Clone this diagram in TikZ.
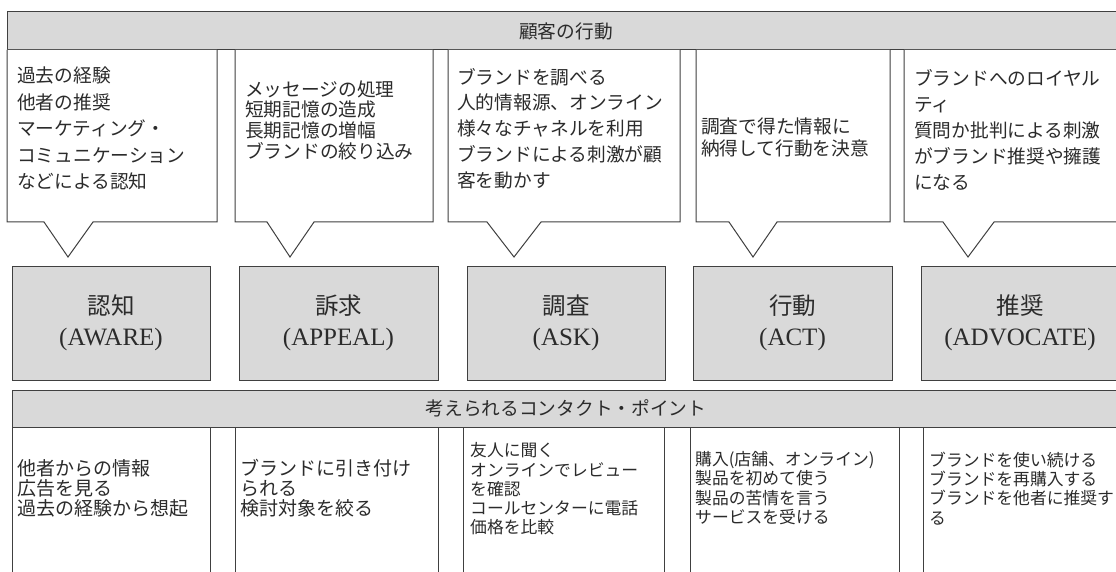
\documentclass[tikz,border=0pt]{standalone}
\usepackage{fontspec}
\setmainfont{Liberation Serif}
\newfontfamily\jp{Noto Sans CJK JP}
\definecolor{edge}{HTML}{404040}
\definecolor{band}{HTML}{D9D9D9}
\definecolor{txt}{HTML}{2B2B2B}
\begin{document}
\begin{tikzpicture}[x=1pt,y=-1pt,
  line/.style={draw=edge,line width=1pt},
  bar/.style={line,fill=band,inner sep=0pt,text=txt,font={\jp\fontsize{18.7}{20}\selectfont}},
  stagebox/.style={line,fill=band,inner sep=0pt,minimum height=114pt,align=center,text=txt,font={\fontsize{25}{30.5}\selectfont}},
  calltext/.style={anchor=west,inner sep=0pt,align=left,text=txt,font={\jp\fontsize{18.7}{26.5}\selectfont}},
  tighttext/.style={calltext,font={\jp\fontsize{18.7}{20.7}\selectfont}},
  celltext/.style={anchor=west,inner sep=0pt,align=left,text=txt,font={\jp\fontsize{19}{20}\selectfont}},
  smalltext/.style={anchor=west,inner sep=0pt,align=left,text=txt,font={\jp\fontsize{16.8}{19.3}\selectfont}},
  cellbox/.style={line,fill=white},
  callbox/.style={line,fill=white,line join=miter}]
\useasboundingbox (0,0) rectangle (1116,572);
\clip (0,0) rectangle (1116,572);
\fill[white] (0,0) rectangle (1116,572);

% top header
\node[bar,minimum width=1118pt,minimum height=38pt] (head) at (566,31) {顧客の行動};

% callout boxes
\draw[callbox] (7,50) -- (7,222) -- (44,222) -- (68,257) -- (93,222) -- (217,222) -- (217,50);
\draw[callbox] (235,50) -- (235,222) -- (267,222) -- (290,257) -- (314,222) -- (433,222) -- (433,50);
\draw[callbox] (448,50) -- (448,222) -- (487,222) -- (514,257) -- (541,222) -- (680,222) -- (680,50);
\draw[callbox] (696,50) -- (696,222) -- (729,222) -- (753,257) -- (777,222) -- (890,222) -- (890,50);
\draw[callbox] (904,50) -- (904,222) -- (943,222) -- (968,257) -- (994,222) -- (1130,222) -- (1130,50);

\node[calltext] (c1) at (17,128.5) {過去の経験\\他者の推奨\\マーケティング・\\コミュニケーション\\などによる認知};
\node[tighttext] (c2) at (245,120) {メッセージの処理\\短期記憶の造成\\長期記憶の増幅\\ブランドの絞り込み};
\node[calltext,font={\jp\fontsize{18.7}{25.8}\selectfont}] (c3) at (457,128.5) {ブランドを調べる\\人的情報源、オンライン\\様々なチャネルを利用\\ブランドによる刺激が顧\\客を動かす};
\node[calltext,font={\jp\fontsize{18.7}{22}\selectfont}] (c4) at (701,137) {調査で得た情報に\\納得して行動を決意};
\node[calltext,font={\jp\fontsize{18.7}{26}\selectfont}] (c5) at (914,130) {ブランドへのロイヤル\\ティ\\質問か批判による刺激\\がブランド推奨や擁護\\になる};

% stage boxes
\node[stagebox,minimum width=198pt] (s1) at (111,323) {{\jp\fontsize{23.5}{30.5}\selectfont 認知}\\(AWARE)};
\node[stagebox,minimum width=199pt] (s2) at (338.5,323) {{\jp\fontsize{23.5}{30.5}\selectfont 訴求}\\(APPEAL)};
\node[stagebox,minimum width=198pt] (s3) at (566,323) {{\jp\fontsize{23.5}{30.5}\selectfont 調査}\\(ASK)};
\node[stagebox,minimum width=199pt] (s4) at (792.5,323) {{\jp\fontsize{23.5}{30.5}\selectfont 行動}\\(ACT)};
\node[stagebox,minimum width=198pt] (s5) at (1020,323) {{\jp\fontsize{23.5}{30.5}\selectfont 推奨}\\(ADVOCATE)};

% contact header
\node[bar,minimum width=1108pt,minimum height=37pt] (contact) at (566,408.5) {考えられるコンタクト・ポイント};

% contact cells
\draw[cellbox] (12,590) -- (12,427) -- (210,427) -- (210,590);
\draw[cellbox] (235,590) -- (235,427) -- (438,427) -- (438,590);
\draw[cellbox] (463,590) -- (463,427) -- (664,427) -- (664,590);
\draw[cellbox] (690,590) -- (690,427) -- (899,427) -- (899,590);
\draw[cellbox] (923,590) -- (923,427) -- (1130,427) -- (1130,590);

\node[celltext] (t1) at (17,488) {他者からの情報\\広告を見る\\過去の経験から想起};
\node[celltext] (t2) at (240,488) {ブランドに引き付け\\られる\\検討対象を絞る};
\node[smalltext] (t3) at (470,489) {友人に聞く\\オンラインでレビュー\\を確認\\コールセンターに電話\\価格を比較};
\node[smalltext] (t4) at (695,488) {購入(店舗、オンライン)\\製品を初めて使う\\製品の苦情を言う\\サービスを受ける};
\node[smalltext] (t5) at (929,488.5) {ブランドを使い続ける\\ブランドを再購入する\\ブランドを他者に推奨す\\る};
\end{tikzpicture}
\end{document}
